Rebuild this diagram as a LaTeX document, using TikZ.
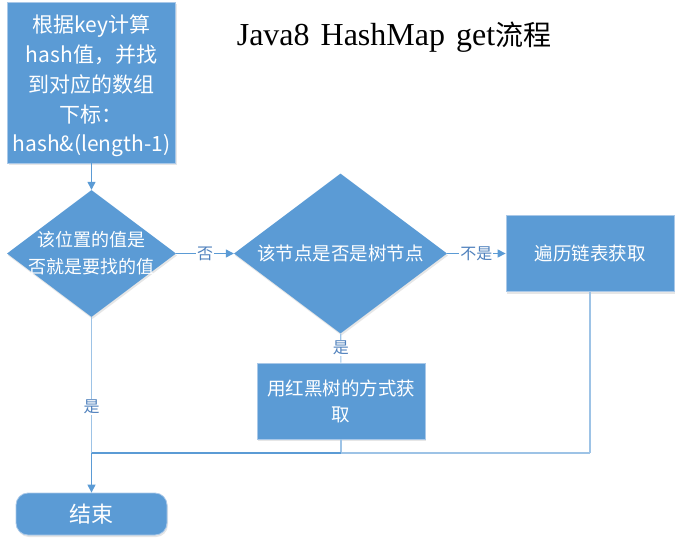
\documentclass[tikz,border=0pt]{standalone}
\usepackage{fontspec}
\setmainfont{Liberation Serif}
\newfontfamily\cjk{Noto Sans CJK SC}
\usetikzlibrary{shapes.geometric,arrows.meta,shadows}
\definecolor{boxblue}{HTML}{5B9BD5}
\definecolor{edgeblue}{HTML}{A9C8E8}
\definecolor{lineblue}{HTML}{5B9BD5}
\definecolor{lightline}{HTML}{9DC3E6}
\definecolor{labelblue}{HTML}{4F81BD}
\tikzset{
  shade/.style={drop shadow={shadow xshift=1pt, shadow yshift=-2pt, opacity=.2}},
  procbox/.style={rectangle, draw=edgeblue, line width=0.8pt, fill=boxblue, text=white,
    align=center, inner sep=0pt, shade},
  decide/.style={diamond, fill=boxblue, text=white, align=center, inner sep=0pt, aspect=1.33, shade},
  endbox/.style={rectangle, rounded corners=12pt, draw=edgeblue, line width=0.8pt, fill=boxblue,
    text=white, inner sep=0pt, shade},
  flow/.style={draw=lineblue, line width=1.2pt, -{Triangle[length=8pt,width=8pt]}},
  plain/.style={draw=lightline, line width=1.2pt},
  lbl/.style={fill=white, inner sep=1pt, text=labelblue, font=\cjk\fontsize{16}{16}\selectfont}
}
\begin{document}
\begin{tikzpicture}[x=1pt,y=-1pt]
\useasboundingbox (0,0) rectangle (681,544);

\node (title) at (394,37) {\fontsize{32}{34}\selectfont Java8\hspace{3pt} HashMap\hspace{3pt} get{\cjk\fontsize{28}{34}\selectfont 流程}};

\node[procbox, minimum width=168pt, minimum height=161pt,
      font=\cjk\fontsize{21}{29.75}\selectfont] (calc) at (91.5,82.5)
  {\rule{0pt}{25pt}根据key计算\\hash值，并找\\到对应的数组\\下标：\\hash\&(length-1)};

\node[decide, minimum width=169pt, minimum height=127pt, inner xsep=-20pt, inner ysep=-12pt,
      font=\cjk\fontsize{18}{27}\selectfont] (d1) at (91.5,253.5)
  {该位置的值是\\否就是要找的值};

\node[decide, minimum width=213pt, minimum height=160pt,
      font=\cjk\fontsize{18.5}{22}\selectfont] (d2) at (340.5,253.5)
  {该节点是否是树节点};

\node[procbox, minimum width=168pt, minimum height=76pt,
      font=\cjk\fontsize{18.5}{22}\selectfont] (list) at (590,253.5)
  {遍历链表获取};

\node[procbox, minimum width=168pt, minimum height=76pt,
      font=\cjk\fontsize{18.5}{26}\selectfont] (rb) at (341,401)
  {用红黑树的方式获\\取};

\node[endbox, minimum width=151pt, minimum height=42pt,
      font=\cjk\fontsize{22}{24}\selectfont] (end) at (91.5,514)
  {结束};

\coordinate (j1) at (91.5,453);
\coordinate (j2) at (341,453);
\coordinate (j3) at (590,453);

\draw[flow] (calc) -- (d1);
\draw[flow] (d1) -- node[lbl] {否} (d2);
\draw[flow] (d2) -- node[lbl] {不是} (list);
\draw[plain] (d2) -- node[lbl] {是} (rb);
\draw[plain] (d1) -- node[lbl, pos=0.66] {是} (j1);
\draw[plain] (list) -- (j3);
\draw[plain] (rb) -- (j2);
\draw[plain] (j2) -- (j3);
\draw[draw=lineblue, line width=1.4pt] (j1) -- (j2);
\draw[flow] (j1) -- (end);
\end{tikzpicture}
\end{document}
